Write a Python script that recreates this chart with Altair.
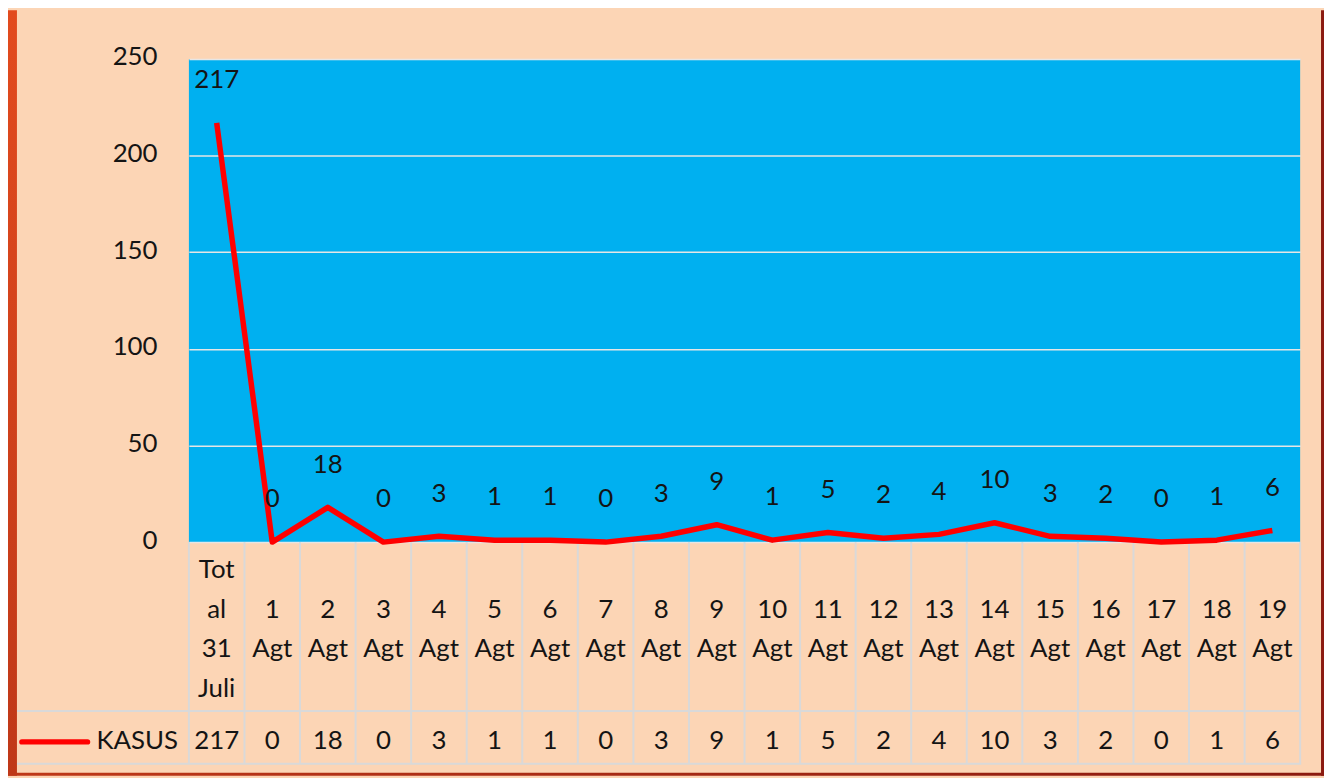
import altair as alt
import pandas as pd

categories = ["Total 31 Juli", "1 Agt", "2 Agt", "3 Agt", "4 Agt", "5 Agt", "6 Agt",
              "7 Agt", "8 Agt", "9 Agt", "10 Agt", "11 Agt", "12 Agt", "13 Agt",
              "14 Agt", "15 Agt", "16 Agt", "17 Agt", "18 Agt", "19 Agt"]
tick_labels = ["Tot\nal\n31\nJuli", "1\nAgt", "2\nAgt", "3\nAgt", "4\nAgt", "5\nAgt",
               "6\nAgt", "7\nAgt", "8\nAgt", "9\nAgt", "10\nAgt", "11\nAgt", "12\nAgt",
               "13\nAgt", "14\nAgt", "15\nAgt", "16\nAgt", "17\nAgt", "18\nAgt", "19\nAgt"]
kasus = [217, 0, 18, 0, 3, 1, 1, 0, 3, 9, 1, 5, 2, 4, 10, 3, 2, 0, 1, 6]
series_name = "KASUS"
y_ticks = [0, 50, 100, 150, 200, 250]

df = pd.DataFrame({"cat": categories, "label": tick_labels, "val": kasus})
one = pd.DataFrame({"a": [0]})

FONT = "Lato"
FS = 26
TXT = "#141414"
GRID = "#D9D9D9"
W, H = 1118, 486
LH = 40
CELL_MID = 574
VAL_ROW = 686

xscale = alt.Scale(type="band", paddingInner=0, paddingOuter=0)
xenc = alt.X("cat:N", sort=categories, scale=xscale, axis=None, bandPosition=0.5)
yenc = alt.Y("val:Q", scale=alt.Scale(domain=[0, 250], nice=False),
             axis=alt.Axis(values=y_ticks, title=None, ticks=False, domain=False,
                           grid=True, gridColor="#E6E6E6", gridWidth=1.5,
                           labelFont=FONT, labelFontSize=FS, labelColor=TXT,
                           labelPadding=32, labelOffset=-2))

base = alt.Chart(df)

line = base.mark_line(color="#FF0000", strokeWidth=5.5, strokeJoin="round").encode(x=xenc, y=yenc)

data_labels = base.mark_text(dy=-43, font=FONT, fontSize=FS, color=TXT, baseline="middle").encode(
    x=xenc, y=alt.Y("val:Q"), text=alt.Text("val:Q"))

# category labels: block centred inside the table cell
first_cat = base.transform_filter(alt.datum.cat == categories[0]).mark_text(
    font=FONT, fontSize=FS, color=TXT, baseline="middle", lineBreak="\n", lineHeight=LH
).encode(x=xenc, y=alt.value(CELL_MID - 1.5 * LH), text="label:N")
other_cats = base.transform_filter(alt.datum.cat != categories[0]).mark_text(
    font=FONT, fontSize=FS, color=TXT, baseline="middle", lineBreak="\n", lineHeight=LH
).encode(x=xenc, y=alt.value(CELL_MID - 0.5 * LH), text="label:N")

val_row = base.mark_text(font=FONT, fontSize=FS, color=TXT, baseline="middle").encode(
    x=xenc, y=alt.value(VAL_ROW), text=alt.Text("val:Q"))

vlines = base.mark_rule(color=GRID, strokeWidth=2).encode(
    x=alt.X("cat:N", sort=categories, bandPosition=0, axis=None),
    y=alt.value(H), y2=alt.value(709))

vline_end = base.transform_filter(alt.datum.cat == categories[-1]).mark_rule(
    color=GRID, strokeWidth=2).encode(
    x=alt.X("cat:N", sort=categories, bandPosition=1, axis=None),
    y=alt.value(H), y2=alt.value(709))

hline1 = alt.Chart(one).mark_rule(color=GRID, strokeWidth=2).encode(
    x=alt.value(-173), x2=alt.value(W + 1), y=alt.value(656))
hline2 = alt.Chart(one).mark_rule(color=GRID, strokeWidth=2).encode(
    x=alt.value(-173), x2=alt.value(W + 1), y=alt.value(709))

legend_line = alt.Chart(one).mark_rule(color="#FF0000", strokeWidth=5.5, strokeCap="round").encode(
    x=alt.value(-168), x2=alt.value(-102), y=alt.value(VAL_ROW + 1))
legend_text = alt.Chart(one).mark_text(font=FONT, fontSize=FS, color=TXT, align="left",
                                       baseline="middle").encode(
    x=alt.value(-93), y=alt.value(VAL_ROW), text=alt.value(series_name))

strip = alt.Chart(one).mark_rect(
    color=alt.LinearGradient(gradient="linear", x1=0, x2=0, y1=0, y2=1,
                             stops=[alt.GradientStop(color="#E24B1E", offset=0),
                                    alt.GradientStop(color="#BF3818", offset=1)])
).encode(x=alt.value(-182), x2=alt.value(-173), y=alt.value(-49), y2=alt.value(721))

right_border = alt.Chart(one).mark_rect(color="#8B1A10").encode(
    x=alt.value(1139), x2=alt.value(1142), y=alt.value(-49), y2=alt.value(721))
bottom_border = alt.Chart(one).mark_rect(
    color=alt.LinearGradient(gradient="linear", x1=0, x2=1, y1=0, y2=0,
                             stops=[alt.GradientStop(color="#BF3818", offset=0),
                                    alt.GradientStop(color="#8B1A10", offset=1)])
).encode(x=alt.value(-182), x2=alt.value(1142), y=alt.value(718), y2=alt.value(721))

chart = alt.layer(
    vlines, vline_end, hline1, hline2, line, data_labels, first_cat, other_cats, val_row,
    legend_line, legend_text, strip, right_border, bottom_border
).properties(
    width=W, height=H,
    background="#FCD5B5",
    padding={"left": 182, "top": 49, "right": 24, "bottom": 235},
    autosize=alt.AutoSizeParams(type="none"),
).configure_view(fill="#00B0F0", strokeWidth=0)

chart.save("out.html", embed_options={"renderer": "svg", "actions": False})
